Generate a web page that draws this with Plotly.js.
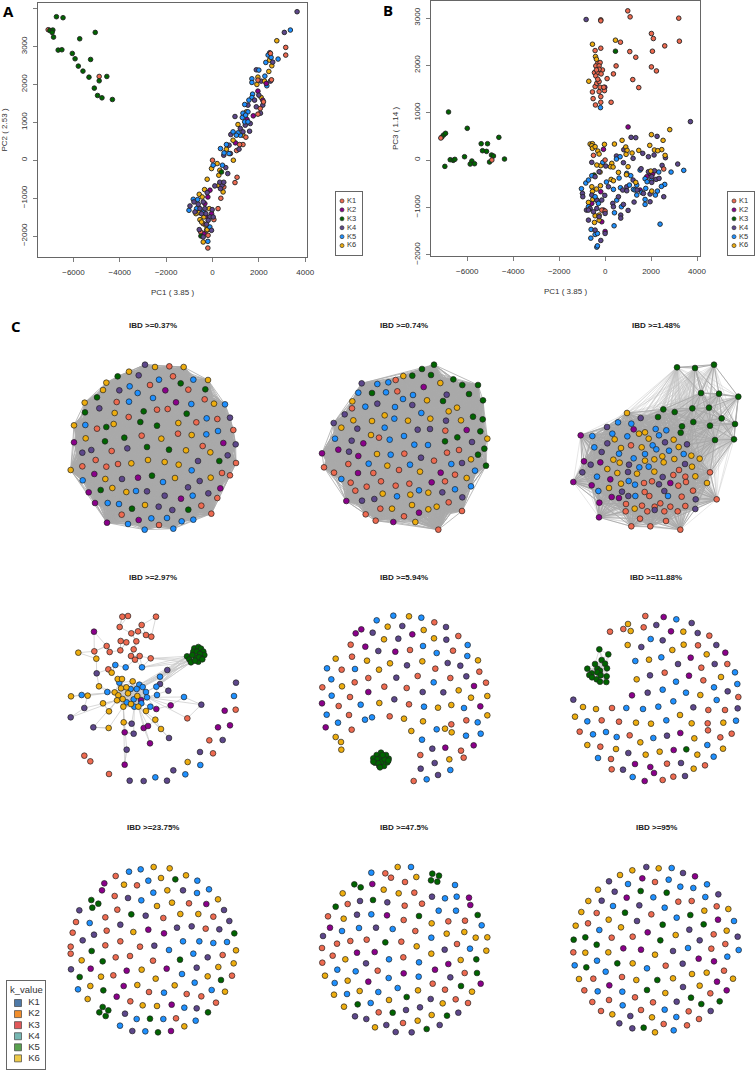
<!DOCTYPE html>
<html><head><meta charset="utf-8">
<script src="https://cdn.plot.ly/plotly-3.0.1.min.js"></script>
<style>html,body{margin:0;padding:0;background:#fff}#c{width:755px;height:1070px}</style></head>
<body><div id="c"></div>
<script>
const kNames=['K1','K2','K3','K4','K5','K6'];
const kColors=['#EE6A50','#8B008B','#006400','#5D478B','#1E90FF','#EEAD0E'];
const legendColors=['#4E79A7','#F28E2B','#E15759','#76B7B2','#59A14F','#EDC948'];
const panelTitles=['IBD >=0.37%','IBD >=0.74%','IBD >=1.48%','IBD >=2.97%','IBD >=5.94%','IBD >=11.88%','IBD >=23.75%','IBD >=47.5%','IBD >=95%'];
const pcAxisX='PC1 ( 3.85 )', pcAxisYA='PC2 ( 2.53 )', pcAxisYB='PC3 ( 1.14 )';
const SANS='Liberation Sans, Arial, sans-serif';

// PC scatter A: [PC1, PC2]
const aK1=[[-7090,3445],[-4890,2211],[3160,2978],[3160,2775],[-200,-2317],[240,-1277],[360,-1004],[970,-590],[1060,-450],[0,0],[1040,255],[1315,414],[1170,414],[1440,608],[2545,2123],[2500,2820],[2200,1540],[1960,2115],[2060,1365],[1960,1216],[60,-1568],[-510,-1894],[-190,-1982],[-260,-1850],[-400,-1674],[490,-705]];
const aK2=[[1960,1824],[1760,1172],[1490,1075],[990,458],[-200,-970],[-40,-1410],[-370,-1940],[-330,-1145],[2170,1585],[-110,-790],[2320,2026],[-230,-1500]];
const aK3=[[-6735,3788],[-6450,3762],[-7020,3427],[-6890,3436],[-6920,3374],[-6860,3250],[-6660,2907],[-6500,2916],[-6050,2819],[-5930,2678],[-5790,2484],[-5590,2352],[-5330,2193],[-5260,2660],[-5730,3206],[-5060,3374],[-4560,2211],[-4890,2096],[-5100,1903],[-4960,1709],[-4770,1647],[-4320,1603],[-500,-2000],[390,-310]];
const aK4=[[3650,3920],[3100,3374],[2470,2837],[2600,2590],[1890,2387],[2500,2088],[2100,2088],[970,1154],[1600,766],[790,678],[1530,1454],[1890,1410],[1815,1586],[2000,1718],[2170,1454],[2070,1242],[1630,969],[1415,925],[1200,837],[1315,749],[1145,291],[715,396],[486,132],[772,176],[572,-194],[658,-352],[415,-660],[100,-678],[315,-581],[486,-581],[343,-749],[-972,-1207],[-800,-1100],[-615,-1163],[-400,-1100],[-230,-855],[-14,-1304],[-543,-1277],[-286,-1410],[-114,-1498],[30,-1498],[-186,-1586],[-572,-1832],[-43,-1850],[-257,-1691],[-400,-2026],[-472,-1410],[-758,-1365],[-330,-1277]];
const aK5=[[3360,3436],[2830,2670],[2300,2581],[2400,2775],[2530,2713],[2000,2379],[1700,2150],[1700,2053],[2260,2220],[2345,1965],[1730,1744],[1700,1656],[1570,1586],[1390,1471],[1530,1277],[1315,1242],[1287,1128],[1387,1013],[1530,1013],[887,749],[1200,660],[343,308],[600,414],[500,194],[715,176],[429,-132],[29,-132],[-1015,-1321],[-830,-1030],[-643,-1040],[-686,-1277],[-400,-1365],[-200,-2141],[-114,-1762],[1100,722],[1030,660],[1430,1190]];
const aK6=[[2775,3154],[2560,2493],[2460,2643],[2430,2343],[1960,2194],[1916,2000],[2245,2088],[2100,1656],[887,529],[1100,943],[1460,1277],[1315,660],[600,290],[900,0],[200,-88],[-43,-220],[315,-264],[272,-396],[-229,-502],[272,-670],[458,-837],[-343,-775],[-572,-899],[-443,-969],[-143,-1277],[-586,-1383],[-715,-1410],[-372,-1498],[-543,-1568],[-472,-1630],[-286,-1718],[-229,-1832],[-400,-2158]];

// PC scatter B: [PC1, PC3]
const bK1=[[986,3151],[1088,3024],[-188,2961],[-188,2940],[3205,2996],[3233,2510],[2015,2672],[2100,2566],[2595,2411],[667,2489],[1073,2291],[2059,2298],[1334,2171],[-435,2312],[-188,2362],[478,1988],[2015,1967],[2233,1882],[362,1819],[87,1720],[1203,1699],[1464,1530],[261,1220],[-420,1163],[-522,1297],[-188,1220],[-188,1340],[-551,1438],[-435,1551],[-217,1537],[-29,1466],[-261,1445],[-58,1537],[-362,1621],[-319,2045],[-217,2059],[-406,1988],[-261,1988],[-116,1903],[-464,1847],[-319,1847],[-174,1819],[-406,1777],[-261,1918],[-377,1903],[-261,1657],[-319,1706],[-507,99],[2552,-190],[-4930,0],[-7150,465],[0,0],[-145,-1057],[0,-1079]];
const bK2=[[1000,698],[-72,226],[-15,1537],[0,-1509],[-188,-670],[1957,-282],[2073,-289],[1812,-352],[1522,-634],[-145,-1304],[-72,-1057],[-580,-916]];
const bK3=[[-6815,1015],[-6000,670],[-7105,486],[-7030,529],[-6945,564],[-4625,479],[-5394,345],[-5118,345],[-5336,197],[-5162,183],[-4945,106],[-4860,85],[-4380,21],[-6119,70],[-6742,7],[-6612,-7],[-6540,14],[-6975,-134],[-5800,-21],[-5872,-85],[-5684,-78],[-5030,-42],[450,2298],[-478,-317]];
const bK4=[[-826,2968],[3712,811],[3160,-85],[2625,49],[2480,-113],[2262,500],[1131,479],[1334,472],[1638,141],[812,218],[493,85],[797,-56],[1218,35],[1885,70],[2131,106],[1566,-183],[942,-564],[1885,-247],[2146,-226],[2030,-352],[2030,-472],[2218,-409],[2349,-388],[2552,-775],[1957,-881],[1957,-719],[1261,-888],[1218,-423],[1392,-634],[1667,-705],[768,-634],[942,-649],[797,-938],[580,-775],[333,-916],[362,-987],[681,-1163],[681,-1227],[1000,-1064],[-986,-705],[-971,-775],[-812,-1057],[-725,-1269],[-580,-740],[-362,-846],[-145,-846],[-15,-747],[-580,-49],[-261,-247],[-435,-352],[145,-564],[29,-127],[-652,-1022],[-362,-1022],[-261,-1198],[-435,-1480],[-188,-1699],[0,-1551],[0,-1128],[-725,-1057],[-507,-1093]];
const bK5=[[3422,-218],[2871,-254],[2335,-254],[2595,-515],[2450,-557],[2392,-1354],[2276,-656],[2190,-740],[1740,-395],[1827,-458],[2015,-423],[1522,-212],[1116,-331],[942,-282],[652,70],[493,21],[609,-381],[58,-465],[362,-620],[667,-585],[1058,-529],[1377,-529],[1232,-620],[1305,-634],[1595,-684],[1740,-832],[1740,-938],[1377,-740],[507,-846],[710,-987],[406,-1114],[391,-1389],[-203,1107],[-101,-49],[-841,-486],[-725,-423],[-580,-331],[-1030,-606],[-623,-1650],[-362,-1840],[-333,-1812],[-609,-1466],[-435,-1572],[-333,-1551],[-725,-987],[-435,-775],[-290,-916],[1769,-599]];
const bK6=[[2813,642],[2015,536],[2523,416],[1943,310],[2465,219],[2146,212],[2291,197],[2610,99],[1464,204],[1174,148],[899,275],[957,204],[739,416],[406,338],[-29,331],[-652,338],[-551,345],[-580,303],[-551,247],[-435,282],[-319,190],[-261,127],[913,120],[1000,-141],[290,-70],[232,-141],[348,-148],[-188,-120],[-362,-106],[580,-261],[-217,-254],[261,-409],[362,-437],[928,-310],[1334,-472],[1986,-233],[2030,-656],[-203,-543],[-580,-564],[-551,-663],[-377,-613],[-725,-895],[-536,-832],[-362,-846],[-435,-1177],[-261,-1163],[-464,-1318],[-261,-1269],[-551,2446],[450,2531],[-420,2185],[-377,2129],[-710,1664]];

// Network panels: node layout positions, one list per ancestry group
const n1K1=[[508,169],[519,199],[450,225],[565,239],[614,268],[350,276],[471,299],[503,297],[386,321],[589,337],[652,327],[291,356],[700,360],[534,371],[425,377],[608,408],[335,423],[287,450],[247,469],[319,470],[354,462],[708,459],[666,489],[690,496],[652,564],[604,587],[634,611],[365,614],[477,645]];
const n1K2=[[496,241],[528,277],[670,399],[222,397],[283,492],[414,503],[266,547],[661,535],[543,566],[285,579],[416,630],[321,638]];
const n1K3=[[353,199],[542,220],[616,238],[291,262],[255,307],[431,304],[560,311],[421,336],[471,347],[319,351],[373,383],[315,394],[441,411],[507,419],[658,453],[456,497],[302,540],[396,596],[565,599]];
const n1K4=[[435,164],[416,196],[358,241],[298,295],[690,323],[707,403],[274,420],[247,428],[382,415],[683,436],[594,453],[366,507],[599,513],[441,544],[564,532],[494,557],[625,550],[476,590],[517,600]];
const n1K5=[[477,209],[580,209],[389,229],[413,249],[459,264],[387,275],[574,282],[675,283],[620,325],[256,345],[654,363],[619,373],[575,481],[248,511],[489,516],[408,543],[578,557],[323,579],[357,582],[454,625],[501,624],[545,634],[580,629],[384,642],[434,659],[520,656]];
const n1K6=[[465,171],[551,171],[387,185],[624,210],[319,218],[309,240],[254,278],[642,281],[344,309],[535,339],[222,346],[341,342],[257,385],[484,386],[575,375],[558,421],[631,427],[394,460],[444,450],[494,456],[536,464],[212,480],[316,507],[525,504],[632,503],[337,534],[379,546],[435,585]];

const n2K1=[[407,210],[412,244],[276,295],[357,383],[556,362],[597,420],[561,428],[433,431],[522,452],[265,462],[417,480],[340,489],[192,472],[222,488],[272,518],[363,514],[320,530],[407,527],[448,521],[555,514],[585,494],[286,542],[566,577],[361,596],[432,619],[606,603],[317,613],[347,632],[535,659]];
const n2K2=[[491,231],[620,360],[310,400],[235,419],[186,430],[295,438],[294,489],[542,488],[515,517],[259,573],[477,608],[400,636]];
const n2K3=[[522,164],[486,177],[457,197],[513,195],[580,208],[607,225],[654,225],[336,249],[627,252],[669,271],[549,273],[639,320],[668,328],[661,364],[592,382],[555,394],[673,416],[654,434],[678,467]];
const n2K4=[[305,220],[560,254],[352,281],[457,285],[254,313],[558,332],[221,339],[292,356],[473,359],[510,357],[636,396],[275,392],[267,425],[483,443],[606,459],[547,547],[607,562],[343,567],[306,572]];
const n2K5=[[352,222],[385,217],[295,248],[378,247],[459,255],[429,267],[316,290],[405,291],[484,309],[403,326],[374,353],[225,386],[389,389],[432,378],[463,404],[504,405],[392,434],[326,461],[450,464],[574,462],[244,507],[645,482],[633,529],[477,541],[585,538],[411,559]];
const n2K6=[[430,198],[541,219],[501,271],[277,274],[566,304],[591,293],[280,331],[336,333],[374,316],[444,332],[511,326],[603,331],[244,353],[333,375],[682,386],[351,432],[633,448],[382,467],[480,485],[620,504],[505,548],[368,551],[451,554],[456,585],[396,596],[505,598],[530,590],[466,636]];

const n3K1=[[363,406],[600,487],[507,480],[490,495],[526,500],[402,519],[426,514],[505,527],[528,516],[549,542],[404,546],[515,560],[620,568],[348,582],[396,587],[434,590],[451,580],[481,590],[526,588],[347,604],[412,604],[463,604],[503,604],[390,626],[468,633],[364,649],[421,649],[511,659],[418,558]];
const n3K2=[[371,358],[212,376],[222,454],[271,457],[301,508],[481,519],[190,516],[245,526],[305,561],[327,564],[268,578],[267,622]];
const n3K3=[[501,172],[555,174],[612,164],[573,249],[627,251],[685,260],[460,298],[494,306],[547,295],[597,293],[444,321],[635,325],[550,336],[516,349],[600,347],[675,342],[512,368],[615,390],[672,388]];
const n3K4=[[392,324],[291,351],[292,400],[275,426],[465,397],[531,403],[242,464],[357,464],[217,487],[354,486],[525,462],[458,501],[447,523],[336,545],[463,543],[355,558],[557,568],[434,600],[556,597]];
const n3K5=[[324,337],[364,341],[247,378],[307,371],[352,379],[437,357],[469,361],[447,376],[253,412],[428,406],[439,418],[477,422],[327,431],[405,432],[371,445],[521,432],[388,472],[416,470],[261,500],[356,513],[375,524],[265,543],[376,558],[474,558]];
const n3K6=[[351,309],[387,371],[405,367],[314,388],[416,386],[491,389],[333,414],[395,412],[506,411],[457,439],[433,448],[493,447],[544,437],[569,446],[310,449],[329,458],[405,452],[461,457],[292,477],[322,489],[381,491],[433,485],[546,470],[556,499],[333,521],[591,519],[297,534],[374,596]];

// panel 4: linked nodes, then the unlinked outer ring
const n4K1=[[367,140],[384,138],[468,140],[425,165],[359,171],[394,190],[414,184],[438,195],[454,200],[362,213],[379,217],[409,214],[320,228],[283,244],[329,246],[361,241],[401,238],[393,258],[419,258],[405,269],[452,265],[325,298],[562,445]];
const n4K2=[[282,185],[423,390],[512,406],[469,417],[431,474],[444,468],[374,487],[450,520],[374,584]];
const n4K3=[[561,259],[568,268],[573,277],[583,235],[595,231],[603,236],[610,245],[613,255],[605,265],[595,275],[580,245],[590,245],[600,252],[587,262],[577,255],[597,262],[607,268],[585,272]];
const n4K4=[[502,300],[290,310],[480,342],[505,362],[604,404],[253,414],[212,442],[280,472],[395,461],[401,491],[507,504],[380,539]];
const n4K5=[[346,285],[377,292],[426,292],[480,320],[358,338],[418,344],[428,351],[392,357],[410,357],[438,366],[469,350],[322,366],[245,375],[441,382],[471,375],[552,381],[401,388],[380,397],[424,400],[403,410],[451,410]];
const n4K6=[[235,248],[289,266],[335,308],[353,327],[366,327],[398,334],[297,349],[363,355],[379,352],[344,367],[384,370],[355,376],[213,379],[263,377],[368,387],[351,391],[412,378],[309,400],[393,402],[370,410],[415,410],[327,424],[438,423],[466,449],[371,457],[326,474],[483,477]];
const r4K1=[[253,557],[271,574],[327,612],[628,511],[639,550],[707,419]];
const r4K2=[[674,422],[654,472],[690,466]];
const r4K3=[];
const r4K4=[[708,338],[668,510],[600,546],[520,601],[501,632],[431,633],[389,632]];
const r4K5=[[702,378],[601,585],[556,613],[466,622]];
const r4K6=[[563,576]];

const n5K1=[[523,157],[595,198],[272,224],[450,240],[579,242],[276,260],[245,299],[526,296],[658,305],[325,324],[473,318],[571,324],[284,337],[187,352],[373,350],[440,354],[678,338],[270,381],[236,408],[447,403],[267,435],[389,439],[619,451],[574,463],[275,479],[481,555],[603,542],[611,563],[461,633]];
const n5K2=[[304,178],[287,190],[457,193],[316,230],[406,245],[642,348],[325,366],[186,400],[661,409],[197,472],[556,533],[641,526]];
const n5K3=[[363,548],[350,555],[340,565],[345,578],[358,588],[372,588],[382,577],[386,566],[378,555],[362,562],[352,568],[365,575],[374,568],[368,555],[355,580],[340,575],[385,572],[360,592]];
const n5K4=[[427,168],[558,171],[338,188],[415,206],[559,209],[355,243],[563,279],[441,286],[601,287],[409,323],[619,319],[488,366],[550,367],[403,388],[517,536],[524,579],[482,596],[534,615]];
const n5K5=[[400,137],[484,143],[350,151],[489,228],[530,249],[623,225],[622,258],[201,295],[285,297],[214,328],[521,337],[215,377],[302,404],[492,410],[612,414],[200,434],[336,442],[315,449],[234,458],[653,457],[530,478],[618,497],[662,491],[486,509],[571,600],[500,628]];
const n5K6=[[447,139],[383,170],[491,180],[372,208],[522,205],[227,266],[321,272],[390,280],[487,274],[654,271],[357,299],[246,349],[596,361],[633,383],[682,378],[358,399],[534,413],[574,405],[432,446],[682,436],[489,454],[555,476],[575,487],[454,483],[227,501],[243,516],[244,539],[568,568]];

const n6K1=[[406,138],[401,172],[300,185],[340,177],[598,197],[564,226],[574,293],[652,282],[464,308],[580,331],[685,381],[306,414],[595,420],[645,420],[275,451],[327,455],[593,460],[209,485],[359,496],[594,481],[631,502],[665,491],[271,530],[303,567],[471,581],[585,586],[305,598],[490,620],[458,630]];
const n6K2=[[461,141],[483,184],[542,263],[646,248],[537,317],[366,376],[511,489],[491,540],[375,582],[421,591],[432,609],[404,633]];
const n6K3=[[268,238],[295,253],[275,270],[255,282],[285,281],[232,296],[262,296],[291,295],[270,302],[262,307],[245,310],[238,315],[272,316],[246,322],[290,319],[260,328],[270,335],[289,336],[529,538]];
const n6K4=[[439,165],[545,159],[563,189],[458,211],[394,231],[619,225],[504,282],[614,282],[420,316],[653,364],[413,368],[190,389],[550,412],[683,415],[471,497],[355,549],[513,579],[339,599],[525,618]];
const n6K5=[[499,148],[422,207],[454,262],[376,273],[675,307],[498,335],[682,342],[612,352],[458,359],[528,368],[620,390],[490,394],[349,414],[399,417],[445,410],[232,454],[469,451],[678,452],[249,493],[288,486],[320,501],[430,504],[592,525],[264,564],[611,560],[368,621]];
const n6K6=[[354,162],[362,183],[520,185],[353,225],[487,240],[521,224],[590,253],[417,269],[633,321],[380,328],[571,375],[219,411],[258,417],[195,440],[510,435],[378,458],[423,461],[545,460],[640,458],[232,525],[391,517],[553,505],[318,537],[407,554],[449,545],[562,554],[639,536],[551,596]];

const n7K1=[[347,168],[411,196],[344,228],[352,269],[316,292],[228,306],[218,338],[320,332],[361,364],[316,376],[420,380],[212,380],[212,401],[490,294],[567,250],[640,290],[617,326],[347,412],[390,408],[459,422],[668,405],[340,466],[696,467],[447,516],[560,522],[604,529],[391,544],[648,548],[528,595]];
const n7K2=[[313,190],[306,211],[619,252],[445,329],[492,340],[272,446],[380,452],[500,446],[371,498],[350,530],[515,554],[513,633]];
const n7K3=[[526,178],[274,240],[295,251],[277,263],[394,283],[703,340],[275,393],[308,424],[540,419],[239,471],[663,480],[310,511],[308,561],[325,571],[298,577],[317,588],[450,596],[624,577],[474,637]];
const n7K4=[[549,211],[384,234],[238,271],[437,287],[672,270],[688,303],[361,314],[531,323],[575,319],[658,328],[282,344],[248,361],[463,377],[623,412],[213,448],[590,443],[375,581],[590,565],[397,633]];
const n7K5=[[387,155],[422,148],[592,182],[445,182],[627,208],[460,218],[591,219],[424,241],[269,309],[549,364],[598,364],[640,369],[681,366],[507,390],[580,401],[546,462],[584,488],[492,518],[635,510],[234,508],[553,563],[410,597],[490,597],[587,602],[360,617],[436,634]];
const n7K6=[[461,141],[509,145],[558,166],[372,194],[483,174],[502,211],[654,238],[516,248],[471,258],[541,282],[595,282],[400,336],[708,391],[245,421],[701,430],[425,449],[655,441],[303,470],[467,476],[623,469],[271,498],[412,495],[524,496],[675,515],[263,537],[428,556],[471,558],[553,619]];

const n8K1=[[376,160],[393,173],[435,186],[463,218],[263,252],[434,257],[486,251],[204,289],[431,300],[565,304],[615,302],[466,333],[320,359],[271,363],[231,371],[186,384],[424,365],[591,372],[218,407],[430,412],[187,428],[353,452],[614,459],[518,491],[555,509],[587,538],[624,549],[356,577],[429,609]];
const n8K2=[[337,192],[627,233],[631,255],[381,286],[210,323],[291,398],[344,396],[565,432],[525,449],[431,460],[325,485],[662,491]];
const n8K3=[[517,161],[537,167],[513,181],[532,185],[283,193],[302,202],[339,240],[227,260],[477,288],[653,285],[376,367],[649,418],[651,459],[603,498],[440,531],[293,553],[398,578],[561,587],[500,627]];
const n8K4=[[516,230],[300,243],[382,247],[291,284],[348,323],[189,348],[554,389],[318,430],[571,472],[512,537],[438,570],[480,562],[285,589],[319,597],[595,578],[379,615],[539,615],[407,636],[455,637]];
const n8K5=[[334,158],[453,141],[585,195],[555,235],[590,230],[536,272],[588,272],[334,283],[665,316],[246,333],[297,324],[398,327],[514,353],[630,386],[387,418],[477,427],[232,449],[287,454],[386,474],[476,470],[224,489],[413,504],[261,522],[355,516],[332,549]];
const n8K6=[[413,141],[469,171],[371,209],[248,220],[416,220],[251,296],[515,310],[613,336],[560,341],[647,353],[682,352],[470,379],[514,401],[679,392],[256,418],[602,420],[195,467],[263,482],[299,513],[222,524],[474,511],[636,515],[387,540],[548,550],[252,560],[515,585],[473,602],[345,622]];

const n9K1=[[435,186],[505,245],[545,243],[620,259],[260,279],[424,283],[234,310],[611,343],[305,353],[368,350],[646,372],[604,386],[467,437],[642,452],[250,476],[336,471],[223,511],[601,520],[297,540],[375,532],[429,547],[247,546],[273,573],[393,570],[536,574],[567,597],[461,612],[531,616],[190,397]];
const n9K2=[[555,169],[397,175],[350,233],[624,299],[413,337],[340,385],[393,389],[566,416],[612,424],[621,485],[298,496],[650,511]];
const n9K3=[[392,213],[470,218],[345,278],[541,285],[581,313],[458,314],[191,359],[226,352],[260,374],[451,361],[322,430],[229,442],[442,480],[411,510],[543,533],[574,552],[629,544],[401,623]];
const n9K4=[[409,141],[519,159],[297,184],[314,215],[625,223],[275,242],[388,256],[381,303],[538,329],[683,350],[569,361],[489,393],[518,431],[519,501],[500,545],[361,588],[602,573],[328,610],[367,625]];
const n9K5=[[485,144],[354,192],[476,179],[511,200],[550,204],[591,193],[430,232],[586,231],[309,258],[464,263],[500,293],[672,303],[268,330],[534,384],[686,390],[652,410],[194,436],[261,422],[411,445],[287,455],[263,514],[337,515],[338,556],[464,569],[499,591],[491,631]];
const n9K6=[[367,151],[330,165],[446,145],[264,209],[235,243],[583,272],[655,267],[214,276],[296,299],[197,317],[333,322],[650,332],[497,345],[226,398],[295,397],[435,404],[368,430],[546,462],[590,458],[669,476],[207,477],[379,480],[489,475],[569,497],[466,519],[426,592],[307,583],[435,637]];

const W=755,H=1070;
const xd=(a,b)=>[a/W,b/W], yd=(a,b)=>[1-b/H,1-a/H];
const traces=[],annotations=[],layout={width:W,height:H,margin:{l:0,r:0,t:0,b:0},paper_bgcolor:'#fff',plot_bgcolor:'rgba(0,0,0,0)',showlegend:false,annotations,font:{family:SANS,size:8,color:'#333'}};
const tagged=(groups)=>groups.map((g,i)=>g.map(p=>[p[0],p[1],i]));
function mix(groups){ // interleave the six groups so that no colour is uniformly on top
  const t=tagged(groups),out=[];const n=Math.max(...t.map(g=>g.length));
  for(let i=0;i<n;i++)for(const g of t)if(i<g.length)out.push(g[i]);
  return out;
}
const nodeTrace=(pts,xa,ya,size,lw)=>({type:'scatter',mode:'markers',xaxis:xa,yaxis:ya,x:pts.map(p=>p[0]),y:pts.map(p=>p[1]),hoverinfo:'skip',cliponaxis:false,
  marker:{size,color:pts.map(p=>kColors[p[2]]),line:{color:'#222',width:lw}}});

// PC scatter panels
function pcPanel(id,box,xr,yr,yt,groups,ytitle){
  const s=id===1?'':String(id);
  const tf={family:SANS,size:8,color:'#333'};
  layout['xaxis'+s]={domain:xd(box[0],box[1]),range:xr,anchor:'y'+s,tickvals:[-6000,-4000,-2000,0,2000,4000],ticks:'outside',ticklen:4,tickwidth:0.7,tickcolor:'#444',ticklabelstandoff:3,showline:true,mirror:true,linecolor:'#666',linewidth:1,showgrid:false,zeroline:false,tickfont:tf,title:{text:pcAxisX,font:tf,standoff:13}};
  layout['yaxis'+s]={domain:yd(box[2],box[3]),range:yr,anchor:'x'+s,tickvals:yt,tickangle:-90,ticks:'outside',ticklen:4,tickwidth:0.7,tickcolor:'#444',ticklabelstandoff:3,showline:true,mirror:true,linecolor:'#666',linewidth:1,showgrid:false,zeroline:false,tickfont:tf,title:{text:ytitle,font:tf,standoff:12}};
  traces.push(nodeTrace(mix(groups),'x'+s,'y'+s,4.6,0.9));
}
pcPanel(1,[38,307,3,257],[-7530,4078],[-2554,4150],[-2000,-1000,0,1000,2000,3000,4000],[aK1,aK2,aK3,aK4,aK5,aK6],pcAxisYA);
pcPanel(2,[431,700,1,256],[-7578,4130],[-2027,3359],[-2000,-1000,0,1000,2000,3000],[bK1,bK2,bK3,bK4,bK5,bK6],pcAxisYB);

// Network panels
const colX=[[0,260],[260,510],[510,755]],rowY=[[310,550],[570,810],[820,1060]];
function pairsWithin(pts,d){const ex=[],ey=[];for(let i=0;i<pts.length;i++)for(let j=i+1;j<pts.length;j++){const dx=pts[i][0]-pts[j][0],dy=pts[i][1]-pts[j][1];if(dx*dx+dy*dy<=d*d){ex.push(pts[i][0],pts[j][0],null);ey.push(pts[i][1],pts[j][1],null);}}return [ex,ey];}
function nearest(from,pool,n){const ex=[],ey=[];from.forEach(p=>{const o=pool.filter(q=>q!==p).map(q=>[(q[0]-p[0])**2+(q[1]-p[1])**2,q]).sort((a,b)=>a[0]-b[0]).slice(0,n);o.forEach(a=>{ex.push(p[0],a[1][0],null);ey.push(p[1],a[1][1],null);});});return [ex,ey];}
const edgeTrace=(e,s,col,lw)=>({type:'scatter',mode:'lines',xaxis:'x'+s,yaxis:'y'+s,x:e[0],y:e[1],line:{color:col,width:lw},hoverinfo:'skip',connectgaps:false});
const net=[
 {g:[n1K1,n1K2,n1K3,n1K4,n1K5,n1K6]},
 {g:[n2K1,n2K2,n2K3,n2K4,n2K5,n2K6]},
 {g:[n3K1,n3K2,n3K3,n3K4,n3K5,n3K6]},
 {g:[n4K1,n4K2,n4K3,n4K4,n4K5,n4K6],extra:[r4K1,r4K2,r4K3,r4K4,r4K5,r4K6]},
 {g:[n5K1,n5K2,n5K3,n5K4,n5K5,n5K6]},
 {g:[n6K1,n6K2,n6K3,n6K4,n6K5,n6K6]},
 {g:[n7K1,n7K2,n7K3,n7K4,n7K5,n7K6]},
 {g:[n8K1,n8K2,n8K3,n8K4,n8K5,n8K6]},
 {g:[n9K1,n9K2,n9K3,n9K4,n9K5,n9K6]}
];
net.forEach((p,i)=>{
  const r=Math.floor(i/3),c=i%3,s=String(i+3),cx=colX[c],cy=rowY[r];
  const w=(cx[1]-cx[0])*3,h=(cy[1]-cy[0])*3;
  const hide={showgrid:false,zeroline:false,showline:false,showticklabels:false,ticks:'',fixedrange:true};
  layout['xaxis'+s]=Object.assign({domain:xd(cx[0],cx[1]),range:[0,w],anchor:'y'+s},hide);
  layout['yaxis'+s]=Object.assign({domain:yd(cy[0],cy[1]),range:[h,0],anchor:'x'+s},hide);
  const pts=[].concat(...tagged(p.g));
  if(i===0||i===1) traces.push(edgeTrace(pairsWithin(pts,2000),s,'#A9A9A9',0.8));
  if(i===2){
    traces.push(edgeTrace(pairsWithin(pts,300),s,'#BFBFBF',0.4));
    traces.push(edgeTrace(pairsWithin(pts,130),s,'#A9A9A9',0.9));
  }
  if(i===3){
    const linked=pts.filter(q=>q[2]!==2);
    const core=linked.filter(q=>q[1]>=330&&q[1]<=420&&q[0]>=340&&q[0]<=450);
    const upper=linked.filter(q=>q[1]<330);
    const lower=linked.filter(q=>q[1]>=330&&!core.includes(q));
    const e=nearest(upper,linked,2),e2=nearest(lower,linked,1),e3=nearest(lower,core,1),ce=pairsWithin(core,60);
    [e2,e3,ce].forEach(a=>{e[0].push(...a[0]);e[1].push(...a[1]);});
    p.g[2].slice(0,3).forEach(a=>linked.filter(q=>q[0]>=410&&q[0]<=480&&q[1]>=260&&q[1]<=360).forEach(b=>{e[0].push(a[0],b[0],null);e[1].push(a[1],b[1],null);}));
    traces.push(edgeTrace(e,s,'#C8C8C8',0.7));
  }
  if(i===5) traces.push(edgeTrace(pairsWithin(p.g[2].slice(0,18),50),s,'#BDBDBD',0.5));
  if(i===7) traces.push(edgeTrace(pairsWithin(p.g[2].slice(0,4),30),s,'#BDBDBD',0.5));
  const all=p.extra?pts.concat(...tagged(p.extra)):pts;
  traces.push(nodeTrace(all,'x'+s,'y'+s,5.7,0.7));
  annotations.push({xref:'paper',yref:'paper',x:([153,404,656][c])/W,y:1-([325,577,827][r])/H,text:'<b>'+panelTitles[i]+'</b>',showarrow:false,font:{family:SANS,size:8,color:'#222'},xanchor:'center',yanchor:'middle'});
});

// Small keys drawn as their own little axes
function keyPanel(id,box,markX,colors,symbol,size,fs,lineCol,yr,pad){
  const s=String(id);
  const base={showgrid:false,zeroline:false,showticklabels:false,ticks:'',fixedrange:true,showline:true,mirror:true,linecolor:'#666',linewidth:1};
  layout['xaxis'+s]=Object.assign({domain:xd(box[0],box[1]),range:[0,box[1]-box[0]],anchor:'y'+s},base);
  layout['yaxis'+s]=Object.assign({domain:yd(box[2],box[3]),range:yr,anchor:'x'+s},base);
  traces.push({type:'scatter',mode:'markers+text',xaxis:'x'+s,yaxis:'y'+s,x:kNames.map(()=>markX),y:kNames.map((k,i)=>i),text:kNames.map(k=>pad+k),textposition:'middle right',textfont:{family:SANS,size:fs,color:'#333'},hoverinfo:'skip',cliponaxis:false,
    marker:{symbol,size,color:colors,line:{color:lineCol,width:0.7}}});
}
keyPanel(12,[336,362,192,255],6,kColors,'circle',4,7.5,'#333',[6.05,-1.0],'\u2009');
keyPanel(13,[728,754,192,255],6,kColors,'circle',4,7.5,'#333',[6.05,-1.0],'\u2009');
keyPanel(14,[7,45,981,1069],11,legendColors,'square',7,9.5,'#444',[5.96,-1.99],'\u2002');
annotations.push({xref:'paper',yref:'paper',x:26/W,y:1-989/H,text:'k_value',showarrow:false,font:{family:SANS,size:9.5,color:'#333'},xanchor:'center',yanchor:'middle'});

// Panel letters
[['A',8,11],['B',388,10],['C',16,326]].forEach(a=>annotations.push({xref:'paper',yref:'paper',x:a[1]/W,y:1-a[2]/H,text:'<b>'+a[0]+'</b>',showarrow:false,xanchor:'center',yanchor:'middle',font:{family:'Open Sans, sans-serif',size:15,color:'#000'}}));

Plotly.newPlot('c',traces,layout,{displayModeBar:false,staticPlot:true});
</script></body></html>
